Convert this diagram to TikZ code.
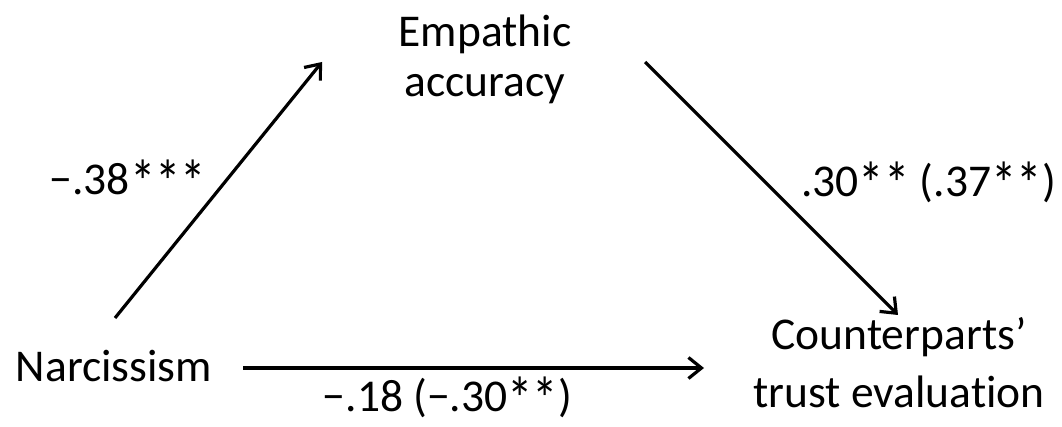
\documentclass[tikz,border=0pt]{standalone}
\usepackage{fontspec}
\setmainfont{Carlito}[Ligatures=NoCommon]
\usetikzlibrary{arrows.meta}
\newcommand{\sig}{\raisebox{-9pt}{\scalebox{1.12}[1.35]{*}}}

\begin{document}
\begin{tikzpicture}[
  x=1pt, y=1pt,
  lbl/.style={inner sep=0pt, align=center, font=\fontsize{45.5}{49}\selectfont},
  arr/.style={draw, line width=3.2pt, -{Straight Barb[length=13pt, width=21pt]}}
]
\useasboundingbox (0,0) rectangle (1062,427);
\node[lbl, anchor=base] (narc) at (114,45) {Narcissism};
\node[lbl, anchor=base] (emp) at (485,380) {Empathic};
\node[lbl, anchor=base] (empb) at (485,330) {accuracy};
\node[lbl, anchor=base] (trust) at (899,77) {Counterparts'};
\node[lbl, anchor=base] (trustb) at (899,19) {trust evaluation};
\coordinate (narc-up) at (115,109);
\coordinate (emp-in) at (322,365);
\coordinate (emp-out) at (645,365);
\coordinate (trust-in) at (898,112);
\coordinate (narc-right) at (243,59);
\coordinate (trust-left) at (704,59);
\draw[arr] (narc-up) -- (emp-in);
\draw[arr] (emp-out) -- (trust-in);
\draw[arr] (narc-right) -- (trust-left);
\node[lbl, anchor=base] (a) at (128,232) {\textminus.38\sig\sig\sig};
\node[lbl, anchor=base] (b) at (928.5,230) {.30\sig\sig{} (.37\sig\sig)};
\node[lbl, anchor=base] (c) at (447.5,15) {\textminus.18 (\textminus.30\sig\sig)};
\end{tikzpicture}
\end{document}
